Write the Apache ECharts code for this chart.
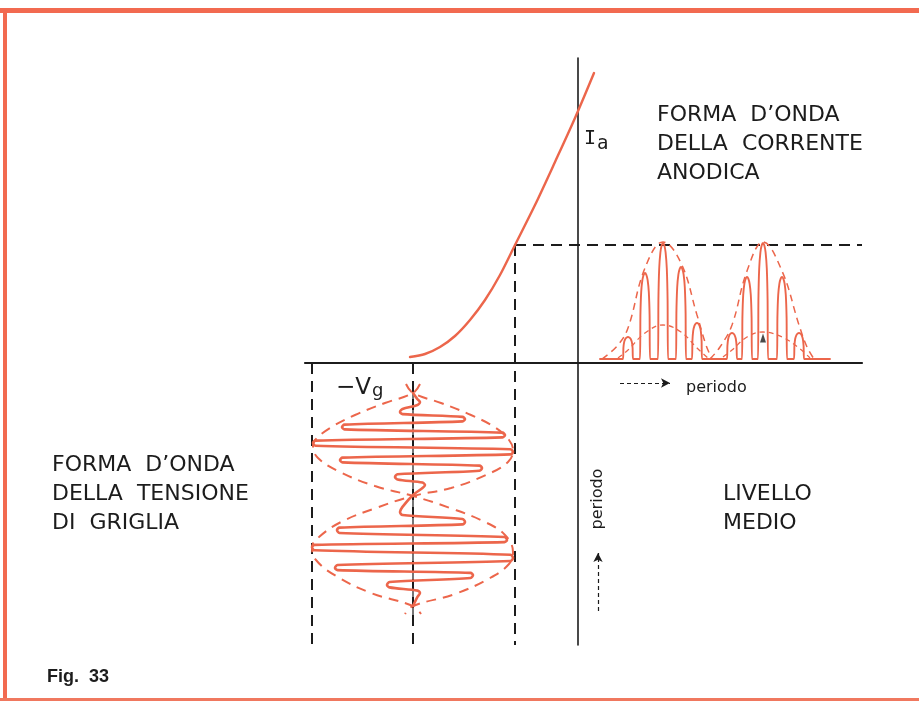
<!DOCTYPE html>
<html><head><meta charset="utf-8">
<script src="https://cdn.jsdelivr.net/npm/echarts@6/dist/echarts.min.js"></script>
<style>html,body{margin:0;padding:0;background:#fff}#c{width:919px;height:701px}</style>
</head><body><div id="c"></div>
<script>
// Drawing units: origin at the crossing of the axes; x = grid voltage, y = anode current (up) / time (down)
const curveX = [-168, -153, -138, -123, -108, -93, -78, -63, -43, -23, -3, 16];
const curveY = [6, 9, 16, 27, 43, 63, 88, 118, 158, 201, 245, 290];
const quiescentX = -63, quiescentY = 118;
const biasX = -165, gridMinX = -266;
const hAxisLeft = -273, hAxisRight = 284, vAxisTop = 305, vAxisBottom = -282;

// grid voltage waveform: turning points (x = voltage, y = time downward)
const gridWaveX = [-165,-158,-178,-113,-236,-73,-265,-65,-238,-96,-183,-153,-165,
                   -178,-113,-241,-71,-266,-65,-243,-105,-191,-158,-165];
const gridWaveY = [-30,-39,-49,-56,-64,-72,-80,-89,-97,-105,-114,-122,-132,
                   -149,-159,-167,-177,-184,-195,-205,-212,-222,-230,-243];
// envelopes of the grid voltage
const envAX = [-158,-165,-193,-223,-248,-263,-265,-260,-238,-203,-165,-128,-93,-73,-65,-69,-88,-123,-165,-173];
const envAY = [-21,-30,-40,-52,-65,-77,-83,-95,-109,-123,-133,-145,-159,-172,-189,-201,-215,-231,-243,-251];
const envBX = [-172,-165,-137,-107,-82,-69,-65,-70,-92,-127,-165,-202,-237,-259,-266,-262,-242,-207,-165,-157];
const envBY = [-21,-30,-40,-52,-65,-77,-87,-99,-112,-125,-133,-145,-159,-174,-184,-197,-213,-230,-243,-251];

// anode current pulses (x = time, y = current)
const pulseX = [50, 67, 85, 103, 119, 154, 169, 185, 204, 221];
const pulseY = [26, 90, 120, 96, 40, 30, 86, 120, 86, 30];
const pulseBase = 4, pulseStart = 22, pulseEnd = 252;
const outer1X = [24, 40, 50, 67, 85, 103, 119, 128, 134];
const outer1Y = [4, 18, 35, 95, 121, 100, 48, 18, 4];
const outer2X = [132, 142, 154, 169, 185, 204, 221, 229, 236];
const outer2Y = [4, 16, 38, 92, 121, 92, 38, 16, 4];
const avg1X = [40, 50, 67, 85, 103, 119, 130];
const avg1Y = [5, 13, 30, 38, 31, 15, 5];
const avg2X = [145, 154, 169, 185, 204, 221, 232];
const avg2Y = [6, 13, 26, 31, 26, 15, 5];
const avgMarker = [185, 25];

const zip = (a, b) => a.map((v, i) => [v, b[i]]);

// grid waveform path: each turning point drawn as a small rounded turn
const wave = [];
for (let k = 0; k < gridWaveX.length; k++) {
  const x = gridWaveX[k], y = gridWaveY[k];
  const s = Math.sign(x - biasX);
  if (k === 0 || k === gridWaveX.length - 1 || x === biasX) { wave.push([x, y]); continue; }
  const yPrev = y + (gridWaveY[k - 1] - y) * 0.3, yNext = y + (gridWaveY[k + 1] - y) * 0.3;
  wave.push([x - s * 2.5, yPrev], [x, y], [x - s * 2.5, yNext]);
}

// anode current pulse train
const tplDX = [-5,-4.6,-3.8,-2.6,-1.3,0,1.3,2.6,3.8,4.6,5];
const tplF = [0,0.5,0.78,0.92,0.98,1,0.98,0.92,0.78,0.5,0];
const train = [[pulseStart, pulseBase]];
pulseX.forEach((x, i) => tplDX.forEach((d, j) => train.push([x + d, pulseBase + (pulseY[i] - pulseBase) * tplF[j]])));
train.push([pulseEnd, pulseBase]);

const RED = '#ec664b', INK = '#1c1c1c';
const solid = (data, color, w, extra) => Object.assign({type:'line', data, symbol:'none', silent:true,
  lineStyle:{color, width:w, join:'round', cap:'round'}}, extra || {});
const dashed = (data, color, w, dash, extra) => Object.assign({type:'line', data, symbol:'none', silent:true,
  lineStyle:{color, width:w, type:dash}}, extra || {});

const series = [
  solid([[hAxisLeft,0],[hAxisRight,0]], INK, 2.2),
  solid([[0,vAxisTop],[0,vAxisBottom]], INK, 1.6),
  dashed([[quiescentX,quiescentY],[hAxisRight,quiescentY]], INK, 2, [11,7]),
  dashed([[quiescentX,quiescentY],[quiescentX,vAxisBottom]], INK, 2, [11,7]),
  dashed([[gridMinX,0],[gridMinX,vAxisBottom]], INK, 2, [11,7]),
  dashed([[biasX,0],[biasX,vAxisBottom]], INK, 2, [11,7]),
  solid([[biasX,-22],[biasX,-252]], INK, 1.2),
  dashed(zip(envAX, envAY), RED, 2, [10,7], {smooth:0.4}),
  dashed(zip(envBX, envBY), RED, 2, [10,7], {smooth:0.4}),
  solid(wave, RED, 2.6, {smooth:0.3}),
  solid(zip(curveX, curveY), RED, 2.4, {smooth:0.3}),
  dashed(zip(outer1X, outer1Y), RED, 1.5, [7,5], {smooth:0.4}),
  dashed(zip(outer2X, outer2Y), RED, 1.5, [7,5], {smooth:0.4}),
  dashed(zip(avg1X, avg1Y), RED, 1.3, [5,4], {smooth:0.4}),
  dashed(zip(avg2X, avg2Y), RED, 1.3, [5,4], {smooth:0.4}),
  solid(train, RED, 1.9, {smooth:0.2}),
  {type:'scatter', data:[avgMarker], symbol:'triangle', symbolSize:[6,9], itemStyle:{color:INK}, silent:true},
  {type:'line', data:[], markLine:{silent:true, symbol:['none','arrow'], symbolSize:[7,9], label:{show:false},
    lineStyle:{color:INK, width:1.2, type:[4,3]},
    data:[[{coord:[42,-20]},{coord:[92,-20]}],[{coord:[20,-248]},{coord:[20,-190]}]]}}
];

const txt = (x, y, text, size, extra) => ({type:'text', x, y, silent:true,
  style: Object.assign({text, fill:INK, font: size + 'px "DejaVu Sans"', textVerticalAlign:'top', lineHeight: 29}, extra || {})});

const chart = echarts.init(document.getElementById('c'), null, {renderer:'canvas'});
chart.setOption({
  animation:false,
  backgroundColor:'#ffffff',
  grid:{left:0, right:0, top:0, bottom:0},
  xAxis:{type:'value', min:-578, max:341, show:false},
  yAxis:{type:'value', min:-338, max:363, show:false},
  series,
  graphic:[
    {type:'line', silent:true, shape:{x1:0,y1:10.5,x2:919,y2:10.5}, style:{stroke:'#f26a50', lineWidth:5}},
    {type:'line', silent:true, shape:{x1:5,y1:8,x2:5,y2:700}, style:{stroke:'#f26a50', lineWidth:4}},
    {type:'line', silent:true, shape:{x1:0,y1:699.5,x2:919,y2:699.5}, style:{stroke:'#f0785f', lineWidth:3}},
    txt(657, 101, "FORMA  D\u2019ONDA\nDELLA  CORRENTE\nANODICA", 22),
    txt(52, 451, "FORMA  D\u2019ONDA\nDELLA  TENSIONE\nDI  GRIGLIA", 22),
    txt(723, 480, "LIVELLO\nMEDIO", 22),
    txt(47, 663, "Fig.  33", 18, {font:'bold 18px "Liberation Sans"'}),
    txt(686, 373, "periodo", 16, {font:'16px "DejaVu Sans"'}),
    {type:'text', x:598, y:499, rotation:Math.PI/2, silent:true,
      style:{text:'periodo', fill:INK, font:'16px "DejaVu Sans"', textAlign:'center', textVerticalAlign:'middle'}},
    txt(336, 374, "\u2212V", 23),
    txt(372, 377, "g", 18),
    txt(584, 124, "I", 20, {font:'20px "DejaVu Sans Mono"'}),
    txt(597, 130, "a", 19, {font:'19px "DejaVu Sans Mono"'})
  ]
});
</script></body></html>
